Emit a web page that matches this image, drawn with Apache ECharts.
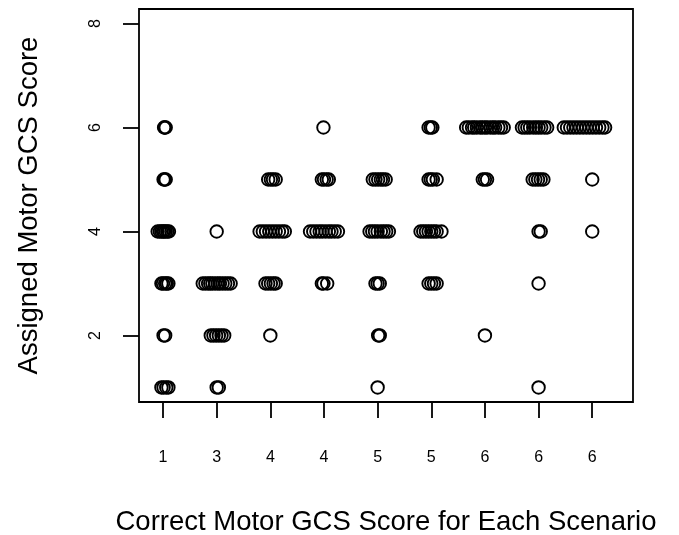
<!DOCTYPE html>
<html>
<head>
<meta charset="utf-8">
<script src="https://cdn.jsdelivr.net/npm/echarts@6/dist/echarts.min.js"></script>
<style>
  html, body { margin: 0; padding: 0; background: #fff; }
  #chart { width: 679px; height: 535px; }
</style>
</head>
<body>
<div id="chart"></div>
<script>
// Tick labels on the x axis (correct motor GCS score for each of the 9 scenarios)
const correctScores = ['1', '3', '4', '4', '5', '5', '6', '6', '6'];
const scenarioPositions = [1, 2, 3, 4, 5, 6, 7, 8, 9];
const yTicks = [2, 4, 6, 8];

// Jittered responses: [x position (scenario index + jitter), assigned score]
const scenario1 = [
  [1.02, 6], [1.03, 6], [1.05, 6],
  [1.01, 5], [1.03, 5], [1.05, 5],
  [0.90, 4], [0.94, 4], [0.97, 4], [1.00, 4], [1.02, 4], [1.05, 4], [1.08, 4], [1.11, 4],
  [0.97, 3], [1.00, 3], [1.04, 3], [1.07, 3], [1.10, 3],
  [1.01, 2], [1.04, 2],
  [0.97, 1], [1.01, 1], [1.06, 1], [1.10, 1]
];
const scenario2 = [
  [2.00, 4],
  [1.74, 3], [1.79, 3], [1.84, 3], [1.88, 3], [1.92, 3], [1.97, 3], [2.02, 3], [2.06, 3], [2.11, 3], [2.16, 3], [2.21, 3], [2.26, 3],
  [1.89, 2], [1.94, 2], [1.99, 2], [2.04, 2], [2.09, 2], [2.14, 2],
  [2.00, 1], [2.04, 1]
];
const scenario3 = [
  [2.96, 5], [3.01, 5], [3.05, 5], [3.10, 5],
  [2.80, 4], [2.86, 4], [2.92, 4], [2.98, 4], [3.04, 4], [3.10, 4], [3.16, 4], [3.22, 4], [3.27, 4],
  [2.91, 3], [2.96, 3], [3.01, 3], [3.06, 3], [3.10, 3],
  [3.00, 2]
];
const scenario4 = [
  [3.99, 6],
  [3.96, 5], [4.00, 5], [4.05, 5], [4.09, 5],
  [3.74, 4], [3.80, 4], [3.86, 4], [3.92, 4], [3.97, 4], [4.03, 4], [4.09, 4], [4.14, 4], [4.20, 4], [4.26, 4],
  [3.96, 3], [3.99, 3], [4.06, 3]
];
const scenario5 = [
  [4.91, 5], [4.96, 5], [5.01, 5], [5.06, 5], [5.10, 5], [5.15, 5],
  [4.85, 4], [4.90, 4], [4.95, 4], [5.00, 4], [5.06, 4], [5.11, 4], [5.16, 4], [5.21, 4],
  [4.96, 3], [5.00, 3], [5.04, 3],
  [5.01, 2], [5.04, 2],
  [5.00, 1]
];
const scenario6 = [
  [5.95, 6], [5.99, 6], [6.02, 6],
  [5.95, 5], [5.99, 5], [6.03, 5], [6.10, 5],
  [5.80, 4], [5.85, 4], [5.90, 4], [5.95, 4], [6.00, 4], [6.05, 4], [6.10, 4], [6.19, 4],
  [5.95, 3], [6.00, 3], [6.05, 3], [6.10, 3]
];
const scenario7 = [
  [6.65, 6], [6.70, 6], [6.76, 6], [6.80, 6], [6.85, 6], [6.91, 6], [6.95, 6], [7.00, 6],
  [7.04, 6], [7.10, 6], [7.15, 6], [7.19, 6], [7.25, 6], [7.30, 6], [7.35, 6],
  [6.96, 5], [7.00, 5], [7.04, 5],
  [7.00, 2]
];
const scenario8 = [
  [7.69, 6], [7.74, 6], [7.79, 6], [7.84, 6], [7.90, 6], [7.95, 6], [8.00, 6], [8.05, 6], [8.11, 6], [8.16, 6],
  [7.89, 5], [7.94, 5], [7.99, 5], [8.04, 5], [8.09, 5],
  [8.00, 4], [8.04, 4],
  [8.00, 3],
  [8.00, 1]
];
const scenario9 = [
  [8.47, 6], [8.53, 6], [8.59, 6], [8.65, 6], [8.71, 6], [8.77, 6], [8.83, 6],
  [8.89, 6], [8.95, 6], [9.01, 6], [9.07, 6], [9.13, 6], [9.19, 6], [9.24, 6],
  [9.00, 5],
  [9.00, 4]
];

const allPoints = [].concat(scenario1, scenario2, scenario3, scenario4, scenario5,
  scenario6, scenario7, scenario8, scenario9);

const FONT = 'Liberation Sans, Arial, Helvetica, sans-serif';

const chart = echarts.init(document.getElementById('chart'), null, { renderer: 'canvas' });
chart.setOption({
  backgroundColor: '#ffffff',
  animation: false,
  grid: {
    left: 139, right: 46, top: 9, bottom: 133,
    containLabel: false,
    outerBoundsMode: 'none',
    show: true, borderColor: '#000', borderWidth: 1.8, backgroundColor: 'transparent'
  },
  xAxis: {
    type: 'value',
    min: 0.552,
    max: 9.76,
    name: 'Correct Motor GCS Score for Each Scenario',
    nameLocation: 'middle',
    nameGap: 106,
    nameTextStyle: { fontFamily: FONT, fontSize: 27.5, color: '#000' },
    axisLine: { show: false },
    splitLine: { show: false },
    axisTick: {
      show: true, inside: false, length: 16,
      customValues: scenarioPositions,
      lineStyle: { color: '#000', width: 1.8 }
    },
    axisLabel: {
      show: true, margin: 48,
      customValues: scenarioPositions,
      formatter: function (v) { return correctScores[Math.round(v) - 1] || ''; },
      fontFamily: FONT, fontSize: 16, color: '#000'
    }
  },
  yAxis: {
    type: 'value',
    min: 0.72,
    max: 8.28,
    name: 'Assigned Motor GCS Score',
    nameLocation: 'middle',
    nameGap: 96,
    nameRotate: 90,
    nameTextStyle: { fontFamily: FONT, fontSize: 27.5, color: '#000' },
    axisLine: { show: false },
    splitLine: { show: false },
    axisTick: {
      show: true, inside: false, length: 16,
      customValues: yTicks,
      lineStyle: { color: '#000', width: 1.8 }
    },
    axisLabel: {
      show: true, margin: 35, rotate: 90,
      customValues: yTicks,
      fontFamily: FONT, fontSize: 16, color: '#000'
    }
  },
  series: [{
    type: 'scatter',
    data: allPoints,
    symbol: 'circle',
    symbolSize: 12.5,
    itemStyle: { color: 'rgba(0,0,0,0)', borderColor: '#000', borderWidth: 1.9, opacity: 1 },
    emphasis: { disabled: true }
  }]
});
</script>
</body>
</html>
